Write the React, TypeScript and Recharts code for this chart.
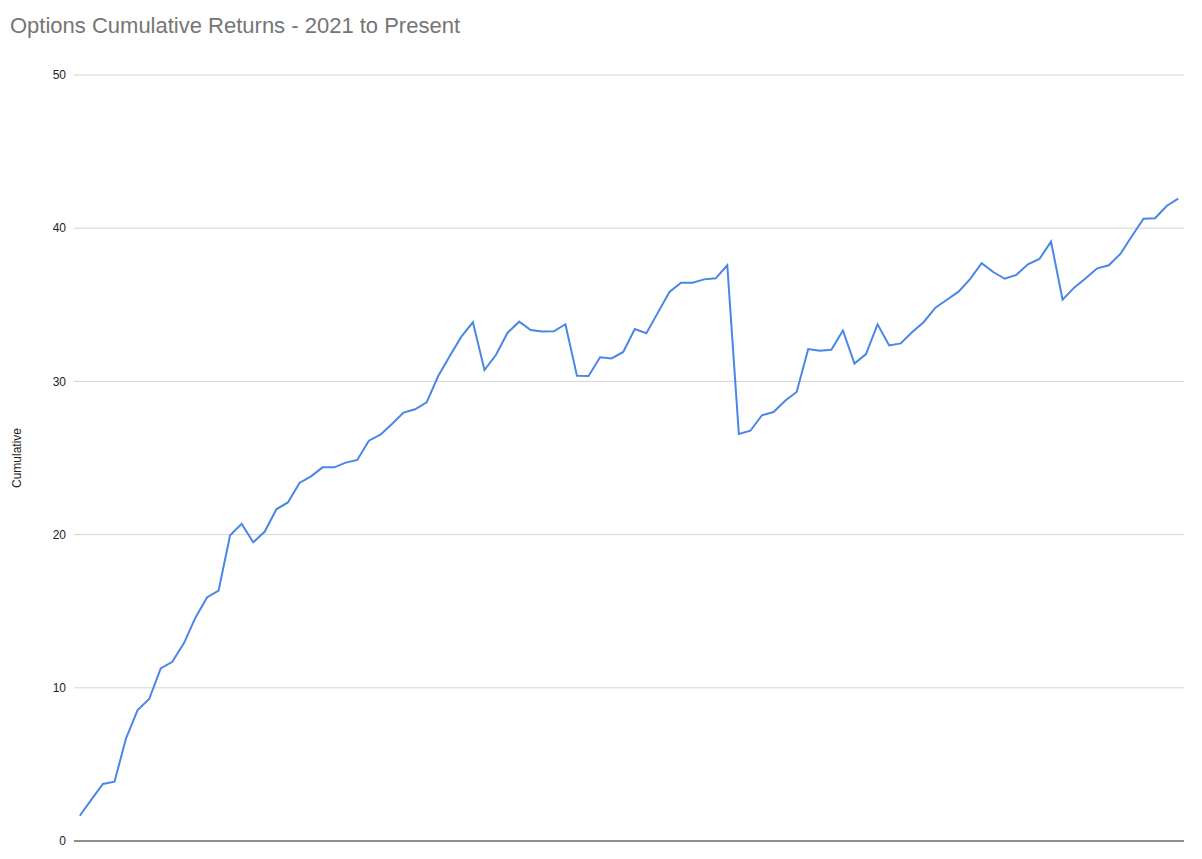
import React from 'react';
import { LineChart, Line, XAxis, YAxis, CartesianGrid, ReferenceLine } from 'recharts';

// cumulative returns, one value per period
const cumulative = [
  1.65, 2.7, 3.72, 3.87, 6.7, 8.55, 9.27, 11.27, 11.7, 12.9,
  14.58, 15.9, 16.34, 19.95, 20.7, 19.5, 20.2, 21.65, 22.1, 23.37,
  23.8, 24.39, 24.39, 24.7, 24.87, 26.13, 26.52, 27.22, 27.96, 28.18,
  28.63, 30.35, 31.66, 32.92, 33.86, 30.74, 31.74, 33.18, 33.9, 33.35,
  33.25, 33.27, 33.73, 30.36, 30.35, 31.57, 31.5, 31.92, 33.42, 33.14,
  34.49, 35.84, 36.44, 36.44, 36.66, 36.73, 37.58, 26.57, 26.78, 27.79,
  28.0, 28.74, 29.31, 32.11, 32.0, 32.07, 33.32, 31.17, 31.78, 33.73,
  32.35, 32.48, 33.22, 33.88, 34.81, 35.33, 35.86, 36.68, 37.71, 37.14,
  36.7, 36.95, 37.64, 37.99, 39.12, 35.33, 36.12, 36.73, 37.38, 37.58,
  38.32, 39.49, 40.62, 40.65, 41.45, 41.93
];
const periods = cumulative.map((_, i) => String(i + 1));
const yTicks = [0, 10, 20, 30, 40, 50];

const data = periods.map((p, i) => ({ period: p, cumulative: cumulative[i] }));

const FONT = 'Arial, "Liberation Sans", sans-serif';

const AxisTitle = (props: any) => {
  const { viewBox } = props;
  const x = viewBox.x + 17;
  const y = viewBox.y + viewBox.height / 2;
  return (
    <text
      x={x}
      y={y}
      transform={`rotate(-90, ${x}, ${y})`}
      textAnchor="middle"
      dominantBaseline="central"
      fontSize={12}
      fontFamily={FONT}
      fill="#222"
    >
      Cumulative
    </text>
  );
};

export default function App() {
  return (
    <div style={{ position: 'absolute', left: 0, top: 0, width: 1202, height: 859, background: '#fff', fontFamily: FONT }}>
      <div style={{ position: 'absolute', left: 10, top: 15, fontSize: 22, lineHeight: '22px', color: '#757575', whiteSpace: 'nowrap' }}>
        Options Cumulative Returns - 2021 to Present
      </div>
      <LineChart
        width={1202}
        height={859}
        data={data}
        margin={{ top: 75, right: 18, bottom: 18, left: 0 }}
      >
        <CartesianGrid vertical={false} stroke="#d4d4d4" />
        <XAxis dataKey="period" hide padding={{ left: 5.8, right: 5.8 }} />
        <YAxis
          width={74}
          domain={[0, 50]}
          ticks={yTicks}
          axisLine={false}
          tickLine={false}
          tick={{ fill: '#222', fontSize: 12, fontFamily: FONT }}
          label={<AxisTitle />}
        />
        <ReferenceLine y={0} stroke="#333" strokeWidth={1} />
        <Line
          type="linear"
          dataKey="cumulative"
          stroke="#4a86e8"
          strokeWidth={2}
          dot={false}
          isAnimationActive={false}
        />
      </LineChart>
    </div>
  );
}
